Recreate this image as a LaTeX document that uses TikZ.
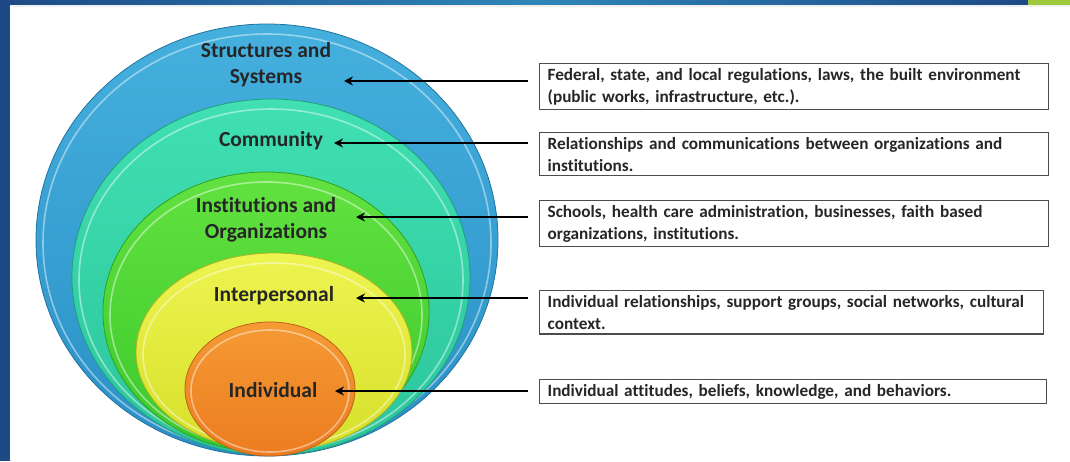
\documentclass[tikz,border=0pt]{standalone}
\usepackage{fontspec}
\setmainfont{Carlito}[Ligatures=NoCommon]
\usetikzlibrary{arrows.meta,shapes.geometric}
\definecolor{navy}{HTML}{1D4A86}
\definecolor{barmid}{HTML}{2F86B8}
\definecolor{lime}{HTML}{9CC83C}
\definecolor{bluetop}{HTML}{45B0DE}
\definecolor{bluebot}{HTML}{2A90C6}
\definecolor{tealtop}{HTML}{40E0B2}
\definecolor{tealbot}{HTML}{2CC59C}
\definecolor{greentop}{HTML}{62E240}
\definecolor{greenbot}{HTML}{3CC82C}
\definecolor{yeltop}{HTML}{EEF450}
\definecolor{yelbot}{HTML}{D6E02A}
\definecolor{orgtop}{HTML}{F59A34}
\definecolor{orgbot}{HTML}{EC7C20}
\tikzset{
  ring/.style={draw=white,opacity=0.45,line width=1.6pt},
  rim/.style={line width=0.8pt},
  lbl/.style={font=\bfseries\fontsize{21.5}{26}\selectfont,align=center,text=black!85},
  desc/.style={draw=black!70,line width=1.3pt,font=\bfseries\fontsize{17.2}{22}\selectfont,
    align=left,anchor=north west,inner xsep=8pt,inner ysep=4.5pt,text=black!85},
  arr/.style={line width=2.6pt,-{Stealth[length=9pt,width=9pt]}}
}
\begin{document}
\begin{tikzpicture}[x=1pt,y=-1pt]
\useasboundingbox (0,0) rectangle (1070,461);
\fill[white] (0,0) rectangle (1070,461);
% top bar and left bar
\shade[left color=navy,right color=barmid] (0,0) rectangle (535,5);
\shade[left color=barmid,right color=navy] (535,0) rectangle (1028,5);
\fill[lime] (1028,0) rectangle (1070,6);
\fill[navy] (0,0) rectangle (10,461);
\fill[black!6] (10,5) rectangle (1070,7);
% ellipses
\shade[top color=bluetop,bottom color=bluebot,draw=bluebot!80!black,rim] (267,240) ellipse [x radius=231,y radius=216];
\draw[ring] (267,243) ellipse [x radius=224,y radius=209];
\shade[top color=tealtop,bottom color=tealbot,draw=tealbot!80!black,rim] (271,277) ellipse [x radius=199,y radius=178];
\draw[ring] (271,280) ellipse [x radius=192,y radius=171];
\shade[top color=greentop,bottom color=greenbot,draw=greenbot!80!black,rim] (266,312) ellipse [x radius=163,y radius=140];
\draw[ring] (266,315) ellipse [x radius=156,y radius=133];
\shade[top color=yeltop,bottom color=yelbot,draw=yelbot!80!black,rim] (274,352) ellipse [x radius=138,y radius=99];
\draw[ring] (274,355) ellipse [x radius=131,y radius=92];
\shade[top color=orgtop,bottom color=orgbot,draw=orgbot!80!black,rim] (270,389) ellipse [x radius=85,y radius=67];
\draw[ring] (270,391) ellipse [x radius=79,y radius=61];
% labels
\node[lbl] (s1) at (266,65) {Structures and\\Systems};
\node[lbl] (s2) at (271,141) {Community};
\node[lbl] (s3) at (266,220) {Institutions and\\Organizations};
\node[lbl] (s4) at (274,296) {Interpersonal};
\node[lbl] (s5) at (273,390) {Individual};
% boxes
\node[desc,text width=493pt] (b1) at (539,63) {Federal, state, and local regulations, laws, the built environment\\(public works, infrastructure, etc.).};
\node[desc,text width=493pt] (b2) at (539,132) {Relationships and communications between organizations and\\institutions.};
\node[desc,text width=493pt] (b3) at (539,200) {Schools, health care administration, businesses, faith based\\organizations, institutions.};
\node[desc,text width=488pt] (b4) at (539,290) {Individual relationships, support groups, social networks, cultural\\context.};
\node[desc,text width=491pt] (b5) at (539,379) {Individual attitudes, beliefs, knowledge, and behaviors.};
% arrows
\coordinate (t1) at (528,81);  \coordinate (h1) at (344,81);
\coordinate (t2) at (528,143); \coordinate (h2) at (334,143);
\coordinate (t3) at (528,217); \coordinate (h3) at (356,217);
\coordinate (t4) at (528,298); \coordinate (h4) at (356,298);
\coordinate (t5) at (528,391); \coordinate (h5) at (335,391);
\draw[arr] (t1) -- (h1);
\draw[arr] (t2) -- (h2);
\draw[arr] (t3) -- (h3);
\draw[arr] (t4) -- (h4);
\draw[arr] (t5) -- (h5);
\end{tikzpicture}
\end{document}
